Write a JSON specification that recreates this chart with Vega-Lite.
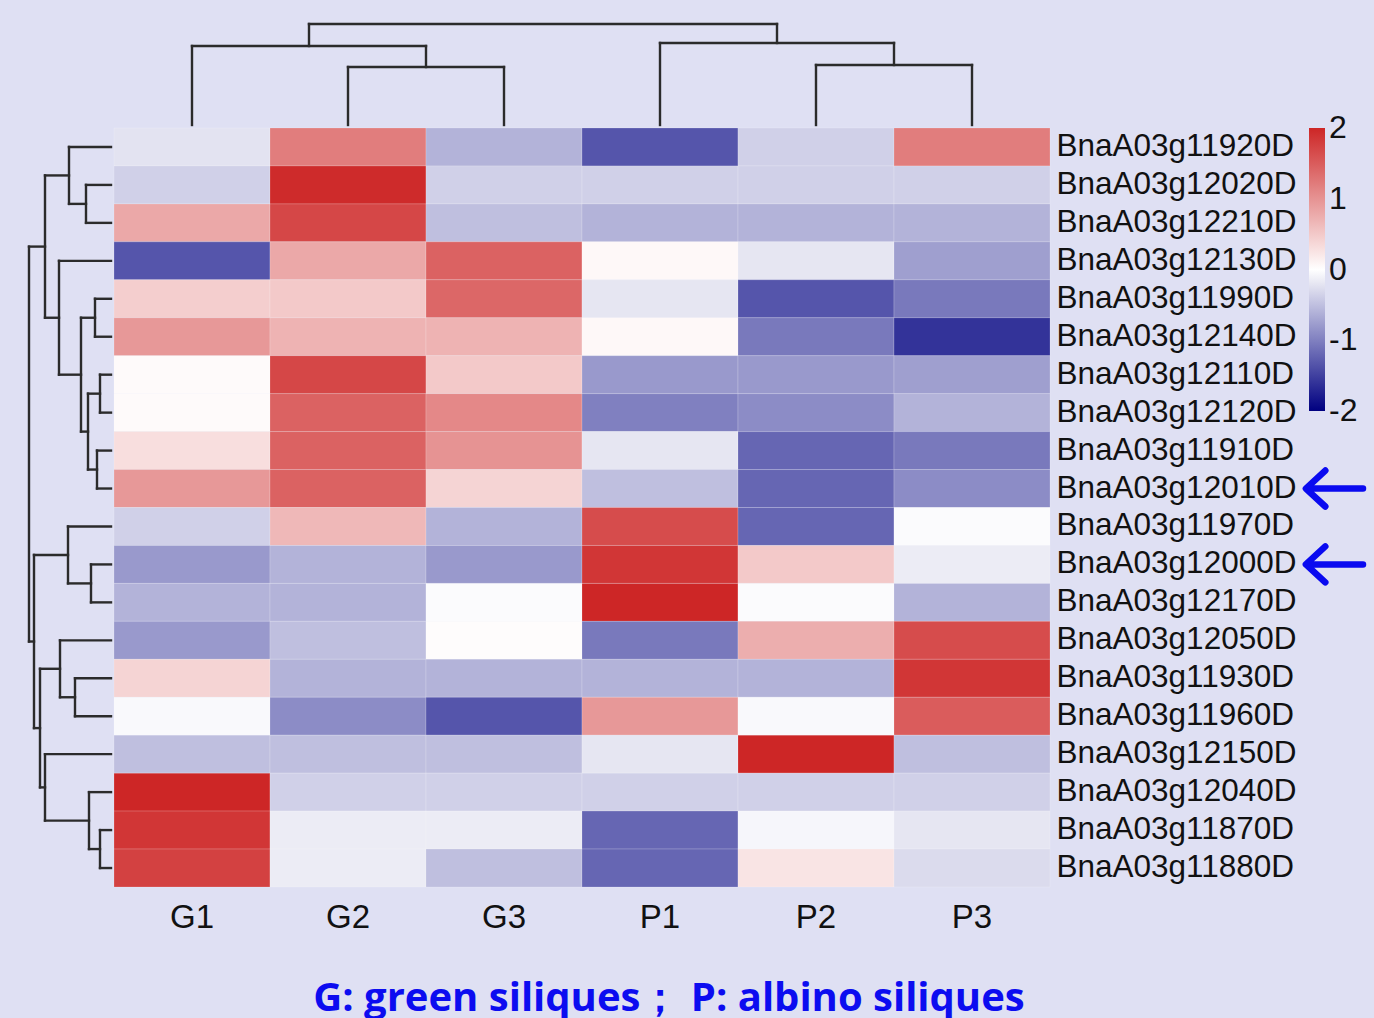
{
  "$schema": "https://vega.github.io/schema/vega-lite/v6.json",
  "background": "#dfe0f3",
  "padding": {"left": 3, "top": 3, "right": 12, "bottom": 0},
  "columns": 2,
  "spacing": 0,
  "align": "each",
  "resolve": {"scale": {"color": "independent"}},
  "config": {"view": {"stroke": null}},
  "datasets": {
    "cells": [
      {"gene": "BnaA03g11920D", "sample": "G1", "value": -0.22},
      {"gene": "BnaA03g11920D", "sample": "G2", "value": 1.2},
      {"gene": "BnaA03g11920D", "sample": "G3", "value": -0.6},
      {"gene": "BnaA03g11920D", "sample": "P1", "value": -1.33},
      {"gene": "BnaA03g11920D", "sample": "P2", "value": -0.37},
      {"gene": "BnaA03g11920D", "sample": "P3", "value": 1.2},
      {"gene": "BnaA03g12020D", "sample": "G1", "value": -0.37},
      {"gene": "BnaA03g12020D", "sample": "G2", "value": 1.95},
      {"gene": "BnaA03g12020D", "sample": "G3", "value": -0.37},
      {"gene": "BnaA03g12020D", "sample": "P1", "value": -0.37},
      {"gene": "BnaA03g12020D", "sample": "P2", "value": -0.37},
      {"gene": "BnaA03g12020D", "sample": "P3", "value": -0.37},
      {"gene": "BnaA03g12210D", "sample": "G1", "value": 0.8},
      {"gene": "BnaA03g12210D", "sample": "G2", "value": 1.7},
      {"gene": "BnaA03g12210D", "sample": "G3", "value": -0.5},
      {"gene": "BnaA03g12210D", "sample": "P1", "value": -0.6},
      {"gene": "BnaA03g12210D", "sample": "P2", "value": -0.6},
      {"gene": "BnaA03g12210D", "sample": "P3", "value": -0.6},
      {"gene": "BnaA03g12130D", "sample": "G1", "value": -1.33},
      {"gene": "BnaA03g12130D", "sample": "G2", "value": 0.8},
      {"gene": "BnaA03g12130D", "sample": "G3", "value": 1.45},
      {"gene": "BnaA03g12130D", "sample": "P1", "value": 0.06},
      {"gene": "BnaA03g12130D", "sample": "P2", "value": -0.2},
      {"gene": "BnaA03g12130D", "sample": "P3", "value": -0.75},
      {"gene": "BnaA03g11990D", "sample": "G1", "value": 0.45},
      {"gene": "BnaA03g11990D", "sample": "G2", "value": 0.5},
      {"gene": "BnaA03g11990D", "sample": "G3", "value": 1.4},
      {"gene": "BnaA03g11990D", "sample": "P1", "value": -0.2},
      {"gene": "BnaA03g11990D", "sample": "P2", "value": -1.33},
      {"gene": "BnaA03g11990D", "sample": "P3", "value": -1.05},
      {"gene": "BnaA03g12140D", "sample": "G1", "value": 0.95},
      {"gene": "BnaA03g12140D", "sample": "G2", "value": 0.7},
      {"gene": "BnaA03g12140D", "sample": "G3", "value": 0.7},
      {"gene": "BnaA03g12140D", "sample": "P1", "value": 0.06},
      {"gene": "BnaA03g12140D", "sample": "P2", "value": -1.05},
      {"gene": "BnaA03g12140D", "sample": "P3", "value": -1.6},
      {"gene": "BnaA03g12110D", "sample": "G1", "value": 0.05},
      {"gene": "BnaA03g12110D", "sample": "G2", "value": 1.7},
      {"gene": "BnaA03g12110D", "sample": "G3", "value": 0.5},
      {"gene": "BnaA03g12110D", "sample": "P1", "value": -0.8},
      {"gene": "BnaA03g12110D", "sample": "P2", "value": -0.8},
      {"gene": "BnaA03g12110D", "sample": "P3", "value": -0.75},
      {"gene": "BnaA03g12120D", "sample": "G1", "value": 0.05},
      {"gene": "BnaA03g12120D", "sample": "G2", "value": 1.45},
      {"gene": "BnaA03g12120D", "sample": "G3", "value": 1.1},
      {"gene": "BnaA03g12120D", "sample": "P1", "value": -1.0},
      {"gene": "BnaA03g12120D", "sample": "P2", "value": -0.9},
      {"gene": "BnaA03g12120D", "sample": "P3", "value": -0.6},
      {"gene": "BnaA03g11910D", "sample": "G1", "value": 0.3},
      {"gene": "BnaA03g11910D", "sample": "G2", "value": 1.45},
      {"gene": "BnaA03g11910D", "sample": "G3", "value": 1.0},
      {"gene": "BnaA03g11910D", "sample": "P1", "value": -0.2},
      {"gene": "BnaA03g11910D", "sample": "P2", "value": -1.2},
      {"gene": "BnaA03g11910D", "sample": "P3", "value": -1.05},
      {"gene": "BnaA03g12010D", "sample": "G1", "value": 0.95},
      {"gene": "BnaA03g12010D", "sample": "G2", "value": 1.45},
      {"gene": "BnaA03g12010D", "sample": "G3", "value": 0.4},
      {"gene": "BnaA03g12010D", "sample": "P1", "value": -0.5},
      {"gene": "BnaA03g12010D", "sample": "P2", "value": -1.2},
      {"gene": "BnaA03g12010D", "sample": "P3", "value": -0.9},
      {"gene": "BnaA03g11970D", "sample": "G1", "value": -0.37},
      {"gene": "BnaA03g11970D", "sample": "G2", "value": 0.65},
      {"gene": "BnaA03g11970D", "sample": "G3", "value": -0.6},
      {"gene": "BnaA03g11970D", "sample": "P1", "value": 1.65},
      {"gene": "BnaA03g11970D", "sample": "P2", "value": -1.2},
      {"gene": "BnaA03g11970D", "sample": "P3", "value": -0.03},
      {"gene": "BnaA03g12000D", "sample": "G1", "value": -0.8},
      {"gene": "BnaA03g12000D", "sample": "G2", "value": -0.6},
      {"gene": "BnaA03g12000D", "sample": "G3", "value": -0.8},
      {"gene": "BnaA03g12000D", "sample": "P1", "value": 1.85},
      {"gene": "BnaA03g12000D", "sample": "P2", "value": 0.5},
      {"gene": "BnaA03g12000D", "sample": "P3", "value": -0.15},
      {"gene": "BnaA03g12170D", "sample": "G1", "value": -0.6},
      {"gene": "BnaA03g12170D", "sample": "G2", "value": -0.6},
      {"gene": "BnaA03g12170D", "sample": "G3", "value": -0.03},
      {"gene": "BnaA03g12170D", "sample": "P1", "value": 2.0},
      {"gene": "BnaA03g12170D", "sample": "P2", "value": -0.03},
      {"gene": "BnaA03g12170D", "sample": "P3", "value": -0.6},
      {"gene": "BnaA03g12050D", "sample": "G1", "value": -0.8},
      {"gene": "BnaA03g12050D", "sample": "G2", "value": -0.5},
      {"gene": "BnaA03g12050D", "sample": "G3", "value": 0.03},
      {"gene": "BnaA03g12050D", "sample": "P1", "value": -1.05},
      {"gene": "BnaA03g12050D", "sample": "P2", "value": 0.75},
      {"gene": "BnaA03g12050D", "sample": "P3", "value": 1.65},
      {"gene": "BnaA03g11930D", "sample": "G1", "value": 0.4},
      {"gene": "BnaA03g11930D", "sample": "G2", "value": -0.6},
      {"gene": "BnaA03g11930D", "sample": "G3", "value": -0.6},
      {"gene": "BnaA03g11930D", "sample": "P1", "value": -0.6},
      {"gene": "BnaA03g11930D", "sample": "P2", "value": -0.6},
      {"gene": "BnaA03g11930D", "sample": "P3", "value": 1.85},
      {"gene": "BnaA03g11960D", "sample": "G1", "value": -0.05},
      {"gene": "BnaA03g11960D", "sample": "G2", "value": -0.9},
      {"gene": "BnaA03g11960D", "sample": "G3", "value": -1.33},
      {"gene": "BnaA03g11960D", "sample": "P1", "value": 0.95},
      {"gene": "BnaA03g11960D", "sample": "P2", "value": -0.05},
      {"gene": "BnaA03g11960D", "sample": "P3", "value": 1.5},
      {"gene": "BnaA03g12150D", "sample": "G1", "value": -0.5},
      {"gene": "BnaA03g12150D", "sample": "G2", "value": -0.5},
      {"gene": "BnaA03g12150D", "sample": "G3", "value": -0.5},
      {"gene": "BnaA03g12150D", "sample": "P1", "value": -0.2},
      {"gene": "BnaA03g12150D", "sample": "P2", "value": 2.0},
      {"gene": "BnaA03g12150D", "sample": "P3", "value": -0.5},
      {"gene": "BnaA03g12040D", "sample": "G1", "value": 2.0},
      {"gene": "BnaA03g12040D", "sample": "G2", "value": -0.37},
      {"gene": "BnaA03g12040D", "sample": "G3", "value": -0.37},
      {"gene": "BnaA03g12040D", "sample": "P1", "value": -0.37},
      {"gene": "BnaA03g12040D", "sample": "P2", "value": -0.37},
      {"gene": "BnaA03g12040D", "sample": "P3", "value": -0.37},
      {"gene": "BnaA03g11870D", "sample": "G1", "value": 1.85},
      {"gene": "BnaA03g11870D", "sample": "G2", "value": -0.15},
      {"gene": "BnaA03g11870D", "sample": "G3", "value": -0.15},
      {"gene": "BnaA03g11870D", "sample": "P1", "value": -1.2},
      {"gene": "BnaA03g11870D", "sample": "P2", "value": -0.07},
      {"gene": "BnaA03g11870D", "sample": "P3", "value": -0.2},
      {"gene": "BnaA03g11880D", "sample": "G1", "value": 1.75},
      {"gene": "BnaA03g11880D", "sample": "G2", "value": -0.15},
      {"gene": "BnaA03g11880D", "sample": "G3", "value": -0.5},
      {"gene": "BnaA03g11880D", "sample": "P1", "value": -1.2},
      {"gene": "BnaA03g11880D", "sample": "P2", "value": 0.25},
      {"gene": "BnaA03g11880D", "sample": "P3", "value": -0.28}
    ],
    "topTree": [
      {"x1": 0.5, "x2": 0.5, "h1": 0, "h2": 3.91},
      {"x1": 1.5, "x2": 1.5, "h1": 0, "h2": 2.87},
      {"x1": 2.5, "x2": 2.5, "h1": 0, "h2": 2.87},
      {"x1": 1.5, "x2": 2.5, "h1": 2.87, "h2": 2.87},
      {"x1": 2.0, "x2": 2.0, "h1": 2.87, "h2": 3.91},
      {"x1": 0.5, "x2": 2.0, "h1": 3.91, "h2": 3.91},
      {"x1": 1.25, "x2": 1.25, "h1": 3.91, "h2": 5.0},
      {"x1": 3.5, "x2": 3.5, "h1": 0, "h2": 4.06},
      {"x1": 4.5, "x2": 4.5, "h1": 0, "h2": 2.97},
      {"x1": 5.5, "x2": 5.5, "h1": 0, "h2": 2.97},
      {"x1": 4.5, "x2": 5.5, "h1": 2.97, "h2": 2.97},
      {"x1": 5.0, "x2": 5.0, "h1": 2.97, "h2": 4.06},
      {"x1": 3.5, "x2": 5.0, "h1": 4.06, "h2": 4.06},
      {"x1": 4.25, "x2": 4.25, "h1": 4.06, "h2": 5.0},
      {"x1": 1.25, "x2": 4.25, "h1": 5.0, "h2": 5.0}
    ],
    "leftTree": [
      {"d1": 1.25, "d2": 1.25, "p1": 1.5, "p2": 2.5},
      {"d1": 0, "d2": 1.25, "p1": 1.5, "p2": 1.5},
      {"d1": 0, "d2": 1.25, "p1": 2.5, "p2": 2.5},
      {"d1": 2.1, "d2": 2.1, "p1": 0.5, "p2": 2.0},
      {"d1": 0, "d2": 2.1, "p1": 0.5, "p2": 0.5},
      {"d1": 1.25, "d2": 2.1, "p1": 2.0, "p2": 2.0},
      {"d1": 0.8, "d2": 0.8, "p1": 4.5, "p2": 5.5},
      {"d1": 0, "d2": 0.8, "p1": 4.5, "p2": 4.5},
      {"d1": 0, "d2": 0.8, "p1": 5.5, "p2": 5.5},
      {"d1": 0.55, "d2": 0.55, "p1": 6.5, "p2": 7.5},
      {"d1": 0, "d2": 0.55, "p1": 6.5, "p2": 6.5},
      {"d1": 0, "d2": 0.55, "p1": 7.5, "p2": 7.5},
      {"d1": 0.7, "d2": 0.7, "p1": 8.5, "p2": 9.5},
      {"d1": 0, "d2": 0.7, "p1": 8.5, "p2": 8.5},
      {"d1": 0, "d2": 0.7, "p1": 9.5, "p2": 9.5},
      {"d1": 1.15, "d2": 1.15, "p1": 7.0, "p2": 9.0},
      {"d1": 0.55, "d2": 1.15, "p1": 7.0, "p2": 7.0},
      {"d1": 0.7, "d2": 1.15, "p1": 9.0, "p2": 9.0},
      {"d1": 1.5, "d2": 1.5, "p1": 5.0, "p2": 8.0},
      {"d1": 0.8, "d2": 1.5, "p1": 5.0, "p2": 5.0},
      {"d1": 1.15, "d2": 1.5, "p1": 8.0, "p2": 8.0},
      {"d1": 2.6, "d2": 2.6, "p1": 3.5, "p2": 6.5},
      {"d1": 0, "d2": 2.6, "p1": 3.5, "p2": 3.5},
      {"d1": 1.5, "d2": 2.6, "p1": 6.5, "p2": 6.5},
      {"d1": 3.3, "d2": 3.3, "p1": 1.25, "p2": 5.0},
      {"d1": 2.1, "d2": 3.3, "p1": 1.25, "p2": 1.25},
      {"d1": 2.6, "d2": 3.3, "p1": 5.0, "p2": 5.0},
      {"d1": 1.0, "d2": 1.0, "p1": 11.5, "p2": 12.5},
      {"d1": 0, "d2": 1.0, "p1": 11.5, "p2": 11.5},
      {"d1": 0, "d2": 1.0, "p1": 12.5, "p2": 12.5},
      {"d1": 2.15, "d2": 2.15, "p1": 10.5, "p2": 12.0},
      {"d1": 0, "d2": 2.15, "p1": 10.5, "p2": 10.5},
      {"d1": 1.0, "d2": 2.15, "p1": 12.0, "p2": 12.0},
      {"d1": 1.8, "d2": 1.8, "p1": 14.5, "p2": 15.5},
      {"d1": 0, "d2": 1.8, "p1": 14.5, "p2": 14.5},
      {"d1": 0, "d2": 1.8, "p1": 15.5, "p2": 15.5},
      {"d1": 2.55, "d2": 2.55, "p1": 13.5, "p2": 15.0},
      {"d1": 0, "d2": 2.55, "p1": 13.5, "p2": 13.5},
      {"d1": 1.8, "d2": 2.55, "p1": 15.0, "p2": 15.0},
      {"d1": 0.55, "d2": 0.55, "p1": 18.5, "p2": 19.5},
      {"d1": 0, "d2": 0.55, "p1": 18.5, "p2": 18.5},
      {"d1": 0, "d2": 0.55, "p1": 19.5, "p2": 19.5},
      {"d1": 1.1, "d2": 1.1, "p1": 17.5, "p2": 19.0},
      {"d1": 0, "d2": 1.1, "p1": 17.5, "p2": 17.5},
      {"d1": 0.55, "d2": 1.1, "p1": 19.0, "p2": 19.0},
      {"d1": 3.3, "d2": 3.3, "p1": 16.5, "p2": 18.25},
      {"d1": 0, "d2": 3.3, "p1": 16.5, "p2": 16.5},
      {"d1": 1.1, "d2": 3.3, "p1": 18.25, "p2": 18.25},
      {"d1": 3.55, "d2": 3.55, "p1": 14.25, "p2": 17.375},
      {"d1": 2.55, "d2": 3.55, "p1": 14.25, "p2": 14.25},
      {"d1": 3.3, "d2": 3.55, "p1": 17.375, "p2": 17.375},
      {"d1": 3.85, "d2": 3.85, "p1": 11.25, "p2": 15.8125},
      {"d1": 2.15, "d2": 3.85, "p1": 11.25, "p2": 11.25},
      {"d1": 3.55, "d2": 3.85, "p1": 15.8125, "p2": 15.8125},
      {"d1": 4.1, "d2": 4.1, "p1": 3.125, "p2": 13.53125},
      {"d1": 3.3, "d2": 4.1, "p1": 3.125, "p2": 3.125},
      {"d1": 3.85, "d2": 4.1, "p1": 13.53125, "p2": 13.53125}
    ],
    "arrows": [
      {"gene": "BnaA03g12010D"},
      {"gene": "BnaA03g12000D"}
    ]
  },
  "concat": [
    {
      "width": 108,
      "height": 122,
      "data": {"values": [{"k": 0}]},
      "mark": {"type": "point", "opacity": 0},
      "encoding": {}
    },
    {
      "width": 936,
      "height": 122,
      "data": {"name": "topTree"},
      "mark": {"type": "rule", "color": "#2b2b2b", "strokeWidth": 2.4, "strokeCap": "square"},
      "encoding": {
        "x": {"field": "x1", "type": "quantitative", "scale": {"domain": [0, 6], "nice": false, "zero": false}, "axis": null},
        "x2": {"field": "x2"},
        "y": {"field": "h1", "type": "quantitative", "scale": {"domain": [0, 6.04], "nice": false}, "axis": null},
        "y2": {"field": "h2"}
      }
    },
    {
      "width": 108,
      "height": 759,
      "data": {"name": "leftTree"},
      "mark": {"type": "rule", "color": "#2b2b2b", "strokeWidth": 2.4, "strokeCap": "square"},
      "encoding": {
        "x": {"field": "d1", "type": "quantitative", "scale": {"domain": [0, 5.4], "nice": false, "reverse": true}, "axis": null},
        "x2": {"field": "d2"},
        "y": {"field": "p1", "type": "quantitative", "scale": {"domain": [0, 20], "nice": false, "reverse": true}, "axis": null},
        "y2": {"field": "p2"}
      }
    },
    {
      "width": 936,
      "height": 759,
      "title": {"text": "G: green siliques；  P: albino siliques", "orient": "bottom", "anchor": "middle", "frame": "group", "fontSize": 40, "font": "Open Sans", "fontWeight": "bold", "color": "#0c0cf0", "offset": 45, "dx": 87},
      "layer": [
        {
          "data": {"name": "cells"},
          "mark": {"type": "rect", "stroke": "#ffffff", "strokeWidth": 1, "strokeOpacity": 0.18},
          "encoding": {
            "x": {"field": "sample", "type": "nominal", "sort": null,
              "scale": {"domain": ["G1", "G2", "G3", "P1", "P2", "P3"], "paddingInner": 0, "paddingOuter": 0},
              "axis": {"orient": "bottom", "title": null, "labelAngle": 0, "labelFontSize": 33, "labelFont": "Liberation Sans", "labelColor": "#111111", "labelPadding": 14, "ticks": false, "domain": false}},
            "y": {"field": "gene", "type": "nominal", "sort": null,
              "scale": {"domain": ["BnaA03g11920D", "BnaA03g12020D", "BnaA03g12210D", "BnaA03g12130D", "BnaA03g11990D", "BnaA03g12140D", "BnaA03g12110D", "BnaA03g12120D", "BnaA03g11910D", "BnaA03g12010D", "BnaA03g11970D", "BnaA03g12000D", "BnaA03g12170D", "BnaA03g12050D", "BnaA03g11930D", "BnaA03g11960D", "BnaA03g12150D", "BnaA03g12040D", "BnaA03g11870D", "BnaA03g11880D"], "paddingInner": 0, "paddingOuter": 0},
              "axis": {"orient": "right", "title": null, "labelFontSize": 31.5, "labelFont": "Liberation Sans", "labelColor": "#111111", "labelPadding": 6, "labelLimit": 400, "ticks": false, "domain": false}},
            "color": {"field": "value", "type": "quantitative",
              "scale": {"domain": [-2, 0, 2], "range": ["#000080", "#ffffff", "#cd2626"], "interpolate": "rgb"},
              "legend": {"title": null, "orient": "right", "offset": 13, "gradientLength": 283, "gradientThickness": 16, "labelFontSize": 32, "labelFont": "Liberation Sans", "labelColor": "#111111", "values": [-2, -1, 0, 1, 2], "labelExpr": "datum.value < 0 ? '-' + (-datum.value) : '' + datum.value", "labelOffset": 4, "padding": 0, "gradientStrokeWidth": 0,
                "encode": {"labels": {"update": {"baseline": {"value": "middle"}}}}}}
          }
        },
        {
          "data": {"name": "arrows"},
          "mark": {"type": "point", "shape": "M 1 0 L -0.95 0 M -0.3 -0.62 L -0.97 0 L -0.3 0.62", "size": 3364, "filled": false, "stroke": "#0a0af0", "strokeWidth": 6.5, "strokeCap": "round", "strokeJoin": "round", "opacity": 1, "xOffset": 362},
          "encoding": {
            "x": {"datum": "P3"},
            "y": {"field": "gene", "type": "nominal"}
          }
        }
      ]
    }
  ]
}
